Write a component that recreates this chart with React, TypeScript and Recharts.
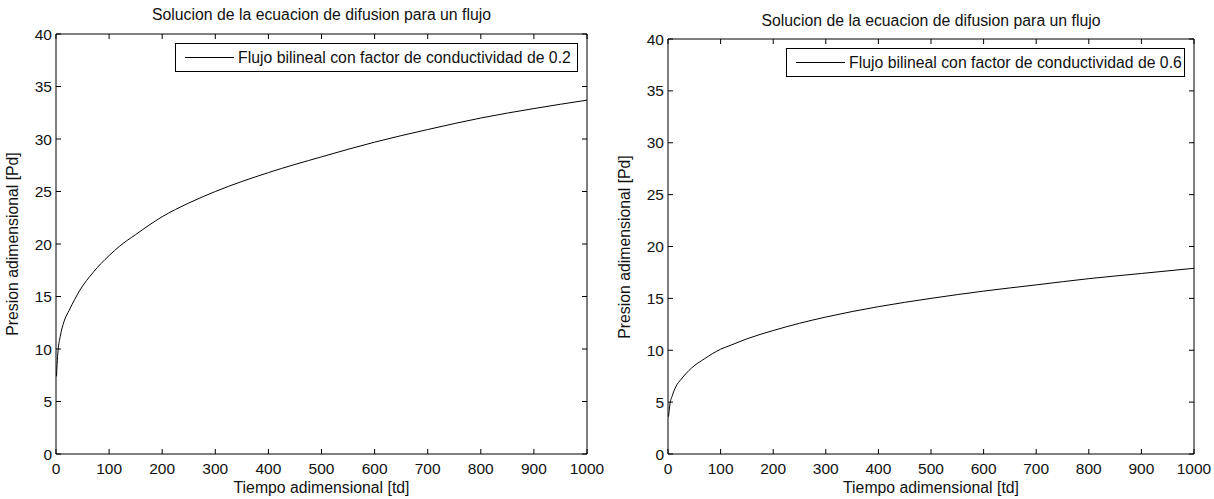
import { LineChart, Line, XAxis, YAxis, Legend } from "recharts";

const FONT = '"Liberation Sans", Arial, Helvetica, sans-serif';
const INK = "#111";

// dimensionless time samples (shared by both curves)
const tdValues = [1, 2, 4, 8, 15, 25, 45, 70, 100, 120, 150, 200, 250, 300, 400, 500, 600, 700, 800, 900, 1000];
// conductivity factor 0.2
const pdLeft = [7.4, 8.5, 9.9, 11.2, 12.6, 13.7, 15.6, 17.3, 18.9, 19.8, 20.9, 22.6, 23.9, 25, 26.8, 28.3, 29.7, 30.9, 32, 32.9, 33.7];
// conductivity factor 0.6
const pdRight = [3.6, 4.1, 4.9, 5.6, 6.5, 7.2, 8.3, 9.2, 10.1, 10.5, 11.1, 11.9, 12.6, 13.2, 14.2, 15, 15.7, 16.3, 16.9, 17.4, 17.9];

const xTicks = [0, 100, 200, 300, 400, 500, 600, 700, 800, 900, 1000];
const yTicks = [0, 5, 10, 15, 20, 25, 30, 35, 40];

const TITLE = "Solucion de la ecuacion de difusion para un flujo";
const X_LABEL = "Tiempo adimensional [td]";
const Y_LABEL = "Presion adimensional [Pd]";
const legendLeft = "Flujo bilineal con factor de conductividad de 0.2";
const legendRight = "Flujo bilineal con factor de conductividad de 0.6";

const CHART_H = 499;
const BOTTOM = 45; // plot bottom at y=454

const makeXTick = (plotH: number) => (props: any) => {
  const { x, y, payload } = props;
  return (
    <g>
      <line x1={x} y1={y} x2={x} y2={y - 5} stroke="#000" />
      <line x1={x} y1={y - plotH} x2={x} y2={y - plotH + 5} stroke="#000" />
      <text x={x} y={y + 14} textAnchor="middle" dominantBaseline="central" fontFamily={FONT} fontSize={15.5} fill={INK}>
        {payload.value}
      </text>
    </g>
  );
};

const makeYTick = (plotW: number) => (props: any) => {
  const { x, y, payload } = props;
  return (
    <g>
      <line x1={x} y1={y} x2={x + 5} y2={y} stroke="#000" />
      <line x1={x + plotW} y1={y} x2={x + plotW - 5} y2={y} stroke="#000" />
      <text x={x - 4} y={y} textAnchor="end" dominantBaseline="central" fontFamily={FONT} fontSize={15.5} fill={INK}>
        {payload.value}
      </text>
    </g>
  );
};

const LegendBox = ({ payload, w }: any) => {
  const item = payload && payload[0];
  if (!item) return null;
  return (
    <div
      style={{
        width: w,
        height: 27,
        border: "1px solid #000",
        background: "#fff",
        display: "flex",
        alignItems: "center",
        fontFamily: FONT,
        fontSize: 15.8,
        color: INK,
        boxSizing: "content-box",
      }}
    >
      <div style={{ width: 49, height: 1, background: "#000", marginLeft: 9, marginRight: 4 }} />
      <span style={{ whiteSpace: "nowrap" }}>{item.value}</span>
    </div>
  );
};

interface PlotProps {
  left: number; // page x of chart svg
  width: number; // svg width
  frameLeft: number; // page x of plot frame
  frameRight: number;
  frameTop: number;
  td: number[];
  pd: number[];
  name: string;
  legendX: number; // page coords
  legendY: number;
  legendW: number;
  titleY: number;
}

const Plot = ({ left, width, frameLeft, frameRight, frameTop, td, pd, name, legendX, legendY, legendW, titleY }: PlotProps) => {
  const data = td.map((t, i) => ({ td: t, pd: pd[i] }));
  const plotW = frameRight - frameLeft;
  const plotH = CHART_H - BOTTOM - frameTop;
  const cx = (frameLeft + frameRight) / 2;
  const cy = frameTop + plotH / 2;
  const textStyle = { position: "absolute" as const, fontFamily: FONT, fontSize: 15.8, color: INK, whiteSpace: "nowrap" as const };
  // axes are 1px thick, so margins leave room for them
  return (
    <>
      <div style={{ position: "absolute", left, top: 0 }}>
        <LineChart
          width={width}
          height={CHART_H}
          data={data}
          margin={{ top: frameTop - 1, left: frameLeft - left - 1, right: left + width - frameRight - 1, bottom: BOTTOM - 1 }}
        >
          <XAxis
            dataKey="td"
            type="number"
            domain={[0, 1000]}
            ticks={xTicks}
            interval={0}
            height={1}
            tickSize={0}
            tickMargin={0}
            tickLine={false}
            axisLine={{ stroke: "#000" }}
            tick={makeXTick(plotH)}
          />
          <XAxis xAxisId="top" orientation="top" type="number" domain={[0, 1000]} height={1} tick={false} tickLine={false} axisLine={{ stroke: "#000" }} />
          <YAxis
            type="number"
            domain={[0, 40]}
            ticks={yTicks}
            interval={0}
            width={1}
            tickSize={0}
            tickMargin={0}
            tickLine={false}
            axisLine={{ stroke: "#000" }}
            tick={makeYTick(plotW)}
          />
          <YAxis yAxisId="right" orientation="right" type="number" domain={[0, 40]} width={1} tick={false} tickLine={false} axisLine={{ stroke: "#000" }} />
          <Legend
            layout="horizontal"
            verticalAlign="middle"
            align="center"
            wrapperStyle={{ left: legendX - left, top: legendY, width: "auto", height: "auto" }}
            content={(p: any) => <LegendBox {...p} w={legendW} />}
          />
          <Line
            type="monotone"
            dataKey="pd"
            name={name}
            stroke="#000"
            strokeWidth={1}
            dot={false}
            activeDot={false}
            isAnimationActive={false}
          />
        </LineChart>
      </div>
      <div style={{ ...textStyle, left: cx, top: titleY, transform: "translate(-50%, -50%)" }}>{TITLE}</div>
      <div style={{ ...textStyle, left: cx, top: 488, transform: "translate(-50%, -50%)" }}>{X_LABEL}</div>
      <div style={{ ...textStyle, left: frameLeft - 43, top: cy, transform: "translate(-50%, -50%) rotate(-90deg)" }}>{Y_LABEL}</div>
    </>
  );
};

export default function App() {
  return (
    <div style={{ position: "absolute", left: 0, top: 0, width: 1214, height: 499, background: "#fff", overflow: "hidden" }}>
      <Plot
        left={0}
        width={625}
        frameLeft={56}
        frameRight={587}
        frameTop={34}
        td={tdValues}
        pd={pdLeft}
        name={legendLeft}
        legendX={175}
        legendY={43}
        legendW={401}
        titleY={15}
      />
      <Plot
        left={607}
        width={607}
        frameLeft={668}
        frameRight={1194}
        frameTop={39}
        td={tdValues}
        pd={pdRight}
        name={legendRight}
        legendX={786}
        legendY={48}
        legendW={397}
        titleY={21}
      />
    </div>
  );
}
